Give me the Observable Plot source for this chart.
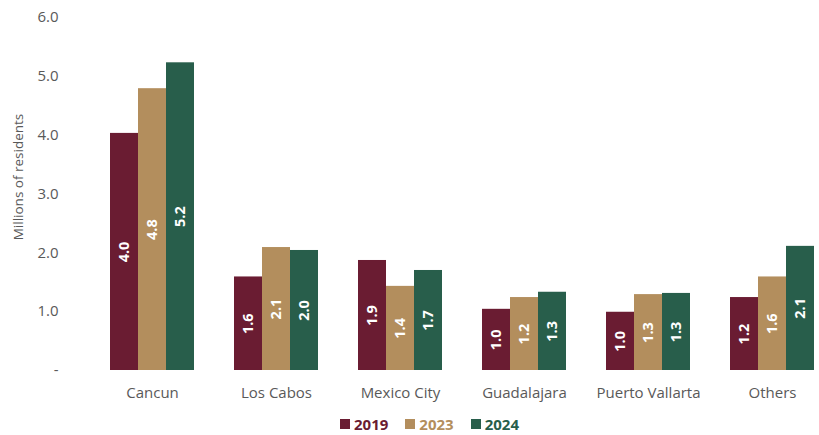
<!DOCTYPE html>
<html>
<head>
<meta charset="utf-8">
<script src="https://cdn.jsdelivr.net/npm/d3@7"></script>
<script src="https://cdn.jsdelivr.net/npm/@observablehq/plot@0.6"></script>
<style>
  html, body { margin: 0; padding: 0; background: #fff; }
  body { width: 819px; height: 435px; overflow: hidden; font-family: "Open Sans", Lato, sans-serif; }
  #legend { display: flex; justify-content: center; gap: 17px; padding-left: 40px; font-size: 15px; font-weight: bold; line-height: 18px; padding-top: 10px; }
  #legend span.item { display: inline-flex; align-items: center; gap: 4px; }
  #legend span.sw { width: 10px; height: 10px; display: inline-block; }
</style>
</head>
<body>
<div id="chart"></div>
<div id="legend"></div>
<script>
const cities = ["Cancun", "Los Cabos", "Mexico City", "Guadalajara", "Puerto Vallarta", "Others"];
const years = ["2019", "2023", "2024"];
const v2019 = [4.03, 1.59, 1.87, 1.04, 0.99, 1.24];
const v2023 = [4.79, 2.09, 1.43, 1.24, 1.29, 1.59];
const v2024 = [5.23, 2.04, 1.70, 1.33, 1.31, 2.11];
const yTicks = [0, 1, 2, 3, 4, 5, 6];
const colors = ["#6a1c32", "#b38e5d", "#285e4b"];
const yLabel = "Millions of residents";

const series = [v2019, v2023, v2024];
const data = [];
cities.forEach((c, i) => years.forEach((y, j) => data.push({city: c, year: y, value: series[j][i]})));

const chart = Plot.plot({
  width: 819,
  height: 405,
  marginTop: 17,
  marginBottom: 35,
  marginLeft: 91,
  marginRight: 0,
  style: {fontFamily: "'Open Sans', Lato, sans-serif", background: "#fff"},
  fx: {domain: cities, paddingInner: 0.32, paddingOuter: 0.095, align: 0.79, label: null, axis: null},
  x: {domain: years, padding: 0, axis: null},
  y: {domain: [0, 6], label: null, axis: null},
  color: {domain: years, range: colors},
  marks: [
    Plot.barY(data, {fx: "city", x: "year", y: "value", fill: "year"}),
    Plot.text(data, {fx: "city", x: "year", y: d => d.value / 2, text: d => d.value.toFixed(1),
      rotate: -90, fill: "white", fontWeight: "bold", fontSize: 14.5}),
    Plot.axisY(yTicks, {tickSize: 0, tickPadding: 52, label: null, tickFormat: d => d === 0 ? "-" : d.toFixed(1),
      fill: "#595959", fontSize: 15}),
    Plot.axisFx({anchor: "bottom", tickSize: 0, tickPadding: 17, label: null, fill: "#595959", fontSize: 15}),
    Plot.text([yLabel], {frameAnchor: "left", textAnchor: "middle", dx: -92, dy: -17, rotate: -90,
      fill: "#595959", fontSize: 13.5, facetAnchor: "left"})
  ]
});
document.getElementById("chart").appendChild(chart);

const legend = document.getElementById("legend");
years.forEach((y, j) => {
  const item = document.createElement("span");
  item.className = "item";
  item.style.color = colors[j];
  const sw = document.createElement("span");
  sw.className = "sw";
  sw.style.background = colors[j];
  item.appendChild(sw);
  item.appendChild(document.createTextNode(y));
  legend.appendChild(item);
});
</script>
</body>
</html>
